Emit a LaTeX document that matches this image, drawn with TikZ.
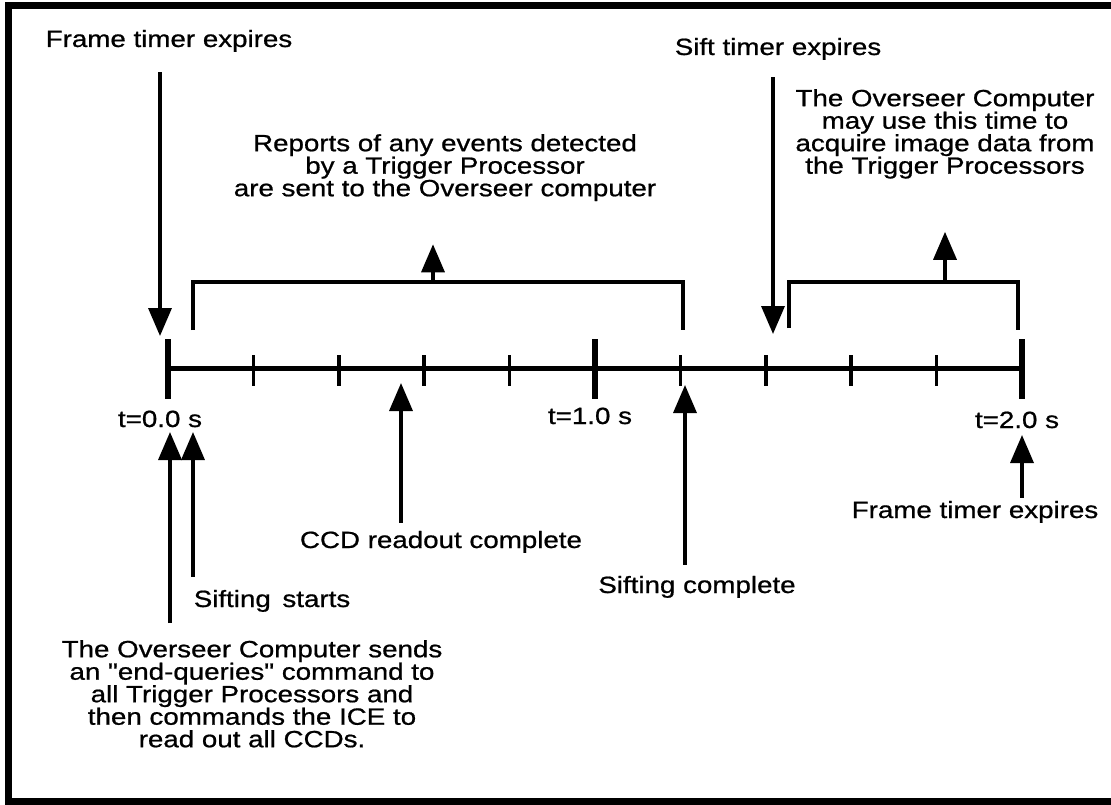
\documentclass[tikz,border=0pt]{standalone}
\usepackage{fontspec}
\newfontfamily\lblfont{Liberation Sans}[FakeStretch=1.18, FakeBold=0.8]
\usetikzlibrary{arrows.meta}

\begin{document}
\begin{tikzpicture}[x=1pt, y=-1pt,
    txt/.style={font=\lblfont\fontsize{23.5}{22.5}\selectfont, inner sep=0pt, align=center},
    arr/.style={line width=3.5pt, -{Triangle[width=23pt, length=28pt]}},
    bracket/.style={line width=4.5pt},
    minortick/.style={line width=3.5pt},
    majortick/.style={line width=6pt}]
    \useasboundingbox (0,0) rectangle (1111,805);
    % Frame:
    \draw[line width=7pt] (1118,6) -- (8,6) -- (8,801) -- (1118,801);
    % Time axis and ticks:
    \coordinate (T0) at (168,368);
    \coordinate (T2) at (1022,368);
    \draw[line width=5pt] (T0) -- (T2);
    \foreach \i in {1,2,3,4,6,7,8,9}
      \draw[minortick] (168+85.4*\i,355) -- (168+85.4*\i,386);
    \foreach \x in {168,595,1022}
      \draw[majortick] (\x,339) -- (\x,399);
    \node[txt, anchor=base] (t0) at (160,427) {t=0.0 s};
    \node[txt, anchor=base] (t1) at (590,424) {t=1.0 s};
    \node[txt, anchor=base] (t2) at (1017,428) {t=2.0 s};
    % Labels above the axis:
    \node[txt, anchor=base] (frameA) at (169,47) {Frame timer expires};
    \node[txt, anchor=base] (siftx) at (778,55) {Sift timer expires};
    \node[txt, anchor=north] (reports) at (445,134) {Reports of any events detected\\ by a Trigger Processor\\ are sent to the Overseer computer};
    \node[txt, anchor=north] (acquire) at (945,89) {The Overseer Computer\\ may use this time to\\ acquire image data from\\ the Trigger Processors};
    % Labels below the axis:
    \node[txt, anchor=base] (ccdro) at (441,548) {CCD readout complete};
    \node[txt, anchor=base] (siftst) at (272,607) {Sifting\, starts};
    \node[txt, anchor=base] (siftcp) at (697,593) {Sifting complete};
    \node[txt, anchor=base] (frameB) at (975,518) {Frame timer expires};
    \node[txt, anchor=north] (sends) at (252,640) {The Overseer Computer sends\\ an "end-queries" command to\\ all Trigger Processors and\\ then commands the ICE to\\ read out all CCDs.};
    % Brackets:
    \coordinate (b1l) at (193,330);
    \coordinate (b1r) at (683,330);
    \coordinate (b1m) at (433,282);
    \draw[bracket] (b1l) -- (b1l |- b1m) -- (b1r |- b1m) -- (b1r);
    \coordinate (b2l) at (789,328);
    \coordinate (b2r) at (1018,330);
    \coordinate (b2m) at (945,282);
    \draw[bracket] (b2l) -- (b2l |- b2m) -- (b2r |- b2m) -- (b2r);
    % Arrows:
    \coordinate (tipA) at (160,336);
    \coordinate (tipS) at (773,334);
    \coordinate (tipB) at (170,432);
    \coordinate (tipC) at (193,432);
    \coordinate (tipD) at (401,383);
    \coordinate (tipE) at (685,385);
    \coordinate (tipF) at (1022,435);
    \draw[arr, shorten <=20pt] (frameA.south -| tipA) -- (tipA);
    \draw[arr, shorten <=17pt] (siftx.south -| tipS) -- (tipS);
    \draw[arr, shorten >=43pt] (b1m) -- (reports.south -| b1m);
    \draw[arr, shorten >=53pt] (b2m) -- (acquire.south -| b2m);
    \draw[arr, shorten <=17pt] (sends.north -| tipB) -- (tipB);
    \draw[arr, shorten <=13pt] (siftst.north -| tipC) -- (tipC);
    \draw[arr, shorten <=8pt] (ccdro.north -| tipD) -- (tipD);
    \draw[arr, shorten <=11pt] (siftcp.north -| tipE) -- (tipE);
    \draw[arr, shorten <=3pt] (frameB.north -| tipF) -- (tipF);
\end{tikzpicture}
\end{document}
